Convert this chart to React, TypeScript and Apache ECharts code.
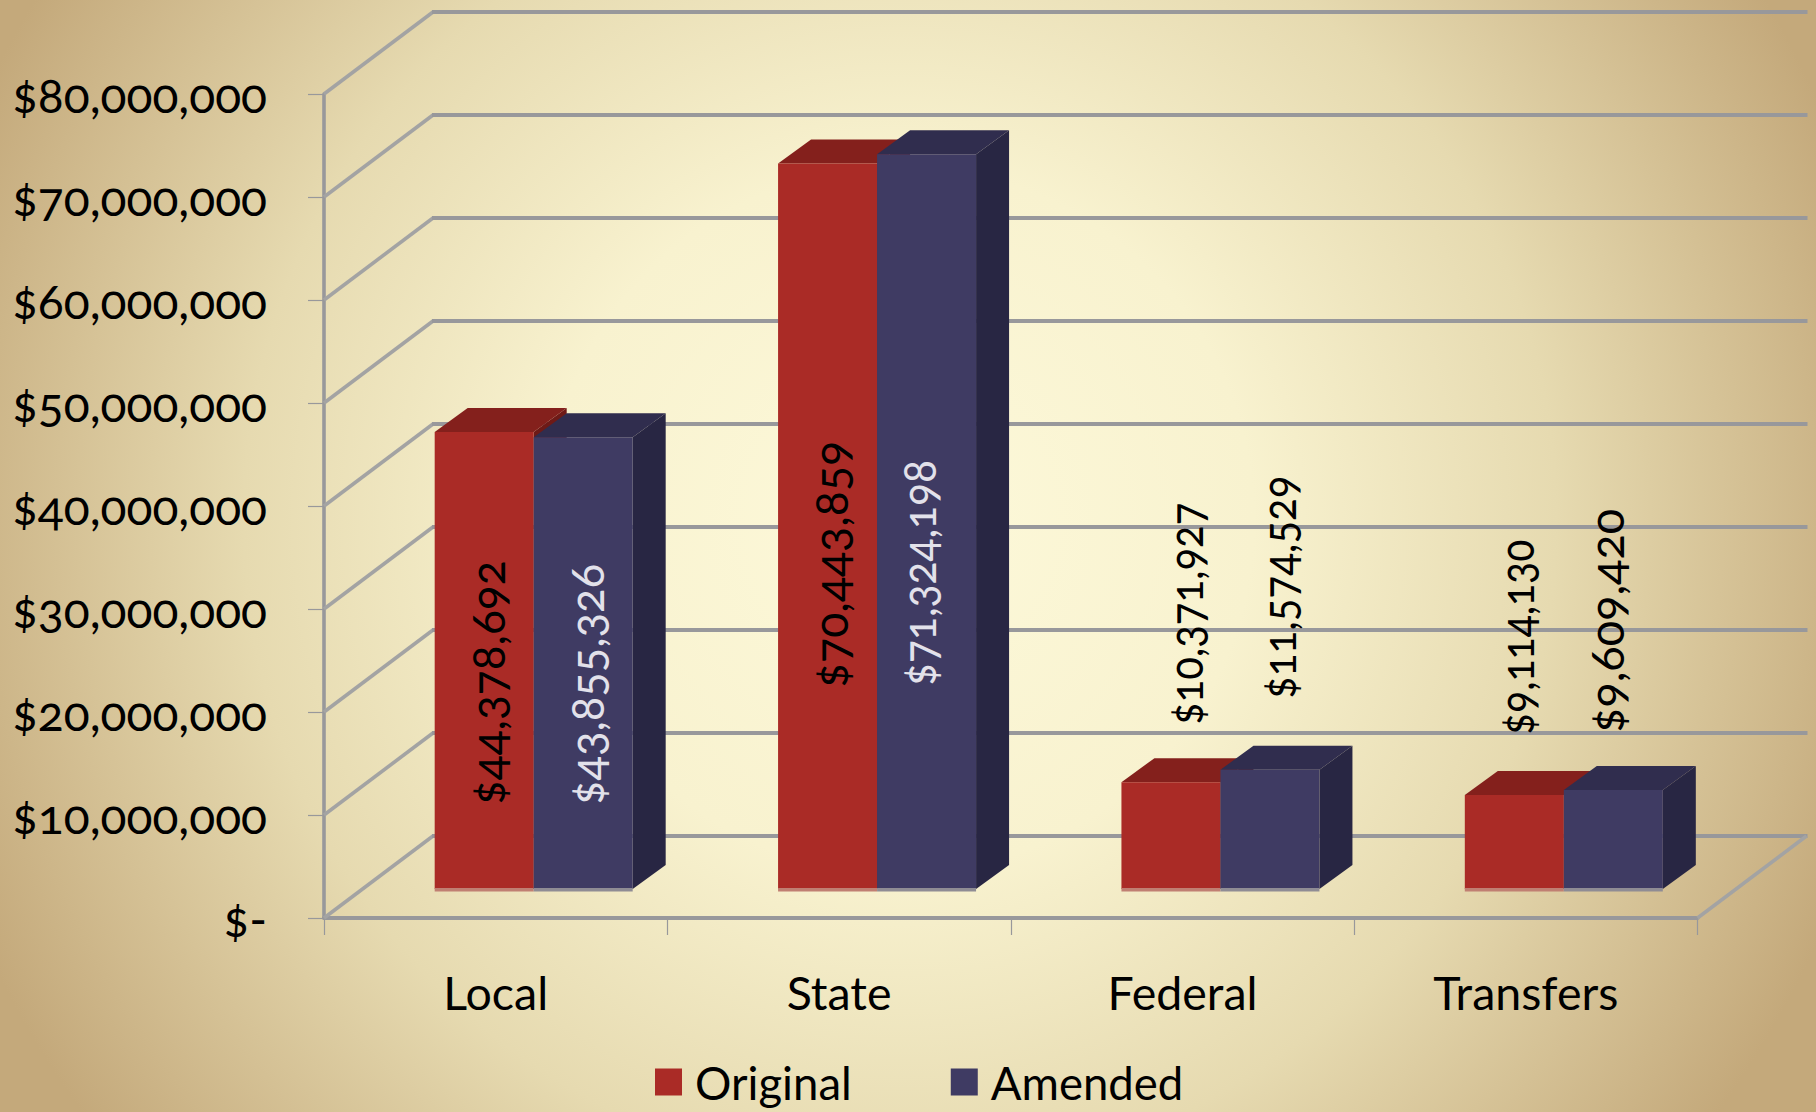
import React, { useEffect, useRef } from "react";
import * as echarts from "echarts";

const categories = ["Local", "State", "Federal", "Transfers"];
const originalValues = [44378692, 70443859, 10371927, 9114130];
const amendedValues = [43855326, 71324198, 11574529, 9609420];
const gridTicks = [0, 10000000, 20000000, 30000000, 40000000, 50000000, 60000000, 70000000, 80000000];

const FONT = "Lato, 'Open Sans', sans-serif";
const WALL_DX = 109;
const WALL_DY = 82;
const BAR_W = 99;
const BAR_SHIFT_X = 38;
const BAR_LIFT = 29;
const DEPTH_X = 33;
const DEPTH_Y = 24;
const LINE = "#98989b";

const fmt = (v: number) => "$" + v.toLocaleString("en-US");

// label placement relative to the bar: [shift from bar centre, lift above bar base, length scale]
const originalLabelPlace = [[3, 84, 0.99], [2, 201, 1], [14, 164, 0.9], [2, 154, 0.88]];
const amendedLabelPlace = [[3, 84, 0.976], [-9, 203, 0.915], [8, 190, 0.905], [-7, 156, 1.01]];
const amendedLabelColor = ["#e2e1ea", "#e2e1ea", "#000", "#000"];

function wallItem(params: any, api: any) {
  const v = api.value(1);
  const y = api.coord([0, v])[1];
  const cs = params.coordSys;
  const x0 = cs.x;
  const x1 = cs.x + cs.width;
  const children: any[] = [
    {
      type: "line",
      shape: { x1: x0, y1: y, x2: x0 + WALL_DX, y2: y - WALL_DY },
      style: { stroke: "#a3a3a3", lineWidth: 3.6 },
    },
    {
      type: "line",
      shape: { x1: x0 + WALL_DX - 1, y1: y - WALL_DY, x2: x1 + WALL_DX + 1, y2: y - WALL_DY },
      style: { stroke: LINE, lineWidth: 4 },
    },
  ];
  if (v === 0) {
    children.push({
      type: "line",
      shape: { x1, y1: y, x2: x1 + WALL_DX, y2: y - WALL_DY },
      style: { stroke: "#a3a3a3", lineWidth: 3.6 },
    });
  }
  return { type: "group", children };
}

function barRenderer(
  shift: number,
  front: string,
  top: string,
  side: string,
  edge: string,
  places: number[][],
  labelColors: string[]
) {
  return (params: any, api: any) => {
    const i = api.value(0);
    const value = api.value(1);
    const base = api.coord([i, 0]);
    const peak = api.coord([i, value]);
    const left = base[0] + BAR_SHIFT_X + shift;
    const right = left + BAR_W;
    const by = base[1] - BAR_LIFT;
    const ty = peak[1] - BAR_LIFT;
    const place = places[i];
    return {
      type: "group",
      children: [
        {
          type: "polygon",
          shape: { points: [[right, by], [right + DEPTH_X, by - DEPTH_Y], [right + DEPTH_X, ty - DEPTH_Y], [right, ty]] },
          style: { fill: side },
        },
        {
          type: "polygon",
          shape: { points: [[left, ty], [left + DEPTH_X, ty - DEPTH_Y], [right + DEPTH_X, ty - DEPTH_Y], [right, ty]] },
          style: { fill: top },
        },
        {
          type: "rect",
          shape: { x: left, y: ty, width: BAR_W, height: by - ty },
          style: { fill: front },
        },
        {
          type: "rect",
          shape: { x: left, y: by - 1, width: BAR_W, height: 3.5 },
          style: { fill: edge },
        },
        {
          type: "text",
          x: left + BAR_W / 2 + place[0],
          y: by - place[1],
          rotation: Math.PI / 2,
          scaleX: place[2],
          z2: 100,
          style: {
            text: fmt(value),
            fontFamily: FONT,
            fontSize: 46.5,
            fill: labelColors[i],
            textAlign: "left",
            textVerticalAlign: "middle",
          },
        },
      ],
    };
  };
}

export default function App() {
  const ref = useRef<HTMLDivElement>(null);
  useEffect(() => {
    document.body.style.margin = "0";
    const chart = echarts.init(ref.current!, undefined, { renderer: "svg" });
    chart.setOption({
      animation: false,
      textStyle: { fontFamily: FONT },
      grid: { left: 324, top: 94, right: 118.5, bottom: 194, containLabel: false, outerBoundsMode: "none" },
      legend: {
        left: 650,
        top: 1054,
        icon: "rect",
        itemWidth: 27,
        itemHeight: 27,
        itemGap: 99,
        data: ["Original", "Amended"],
        textStyle: { fontFamily: FONT, fontSize: 45.5, color: "#000", padding: [0, 0, 6, 8] },
      },
      xAxis: {
        type: "category",
        data: categories,
        axisLine: { lineStyle: { color: LINE, width: 4 } },
        axisTick: { show: true, length: 17, lineStyle: { color: LINE, width: 1.2 } },
        axisLabel: { color: "#000", fontSize: 46.5, margin: 50, fontFamily: FONT },
      },
      yAxis: {
        type: "value",
        min: 0,
        max: 80000000,
        interval: 10000000,
        splitLine: { show: false },
        axisLine: { show: true, lineStyle: { color: LINE, width: 3.6 } },
        axisTick: { show: true, length: 16, lineStyle: { color: LINE, width: 1.2 } },
        axisLabel: {
          color: "#000",
          fontSize: 48,
          margin: 57,
          fontFamily: FONT,
          formatter: (v: number) => (v === 0 ? "$-" : fmt(v)),
        },
      },
      series: [
        {
          type: "custom",
          name: "walls",
          silent: true,
          z: 1,
          data: gridTicks.map((v) => [0, v]),
          encode: { x: 0, y: 1 },
          renderItem: wallItem,
        },
        {
          type: "custom",
          name: "Original",
          z: 2,
          itemStyle: { color: "#aa2b26" },
          data: originalValues.map((v, i) => [i, v]),
          encode: { x: 0, y: 1 },
          renderItem: barRenderer(-BAR_W, "#aa2b26", "#84201c", "#6e1a17", "#c07f72", originalLabelPlace, ["#000", "#000", "#000", "#000"]),
        },
        {
          type: "custom",
          name: "Amended",
          z: 3,
          itemStyle: { color: "#3f3b63" },
          data: amendedValues.map((v, i) => [i, v]),
          encode: { x: 0, y: 1 },
          renderItem: barRenderer(0, "#3f3b63", "#302d4e", "#282643", "#8f8c94", amendedLabelPlace, amendedLabelColor),
        },
      ],
    });
    return () => chart.dispose();
  }, []);
  return (
    <div
      ref={ref}
      style={{
        width: 1816,
        height: 1112,
        fontVariantNumeric: "oldstyle-nums",
        fontFeatureSettings: '"onum" 1',
        background: "radial-gradient(circle 1010px at 900px 520px, #fdf9da 0%, #f8f2cf 35%, #e6dab0 65%, #c4a97b 100%)",
      }}
    />
  );
}
